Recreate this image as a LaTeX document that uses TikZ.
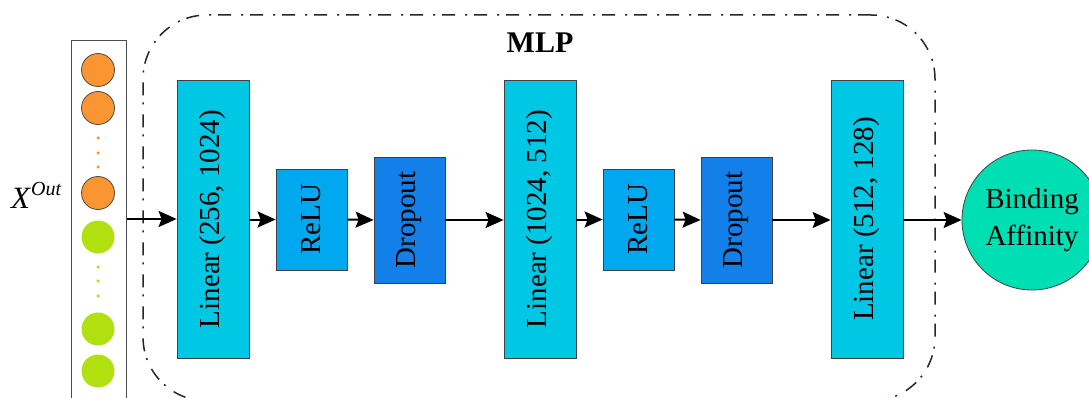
\documentclass[tikz,border=0pt]{standalone}
\usepackage{fontspec}
\setmainfont{Liberation Serif}
\usepackage{graphicx}
\usetikzlibrary{arrows.meta}
\definecolor{linearc}{RGB}{0,200,228}
\definecolor{reluc}{RGB}{0,168,240}
\definecolor{dropc}{RGB}{18,128,232}
\definecolor{orangec}{RGB}{250,150,50}
\definecolor{greenc}{RGB}{176,224,16}
\definecolor{outc}{RGB}{0,222,180}
\begin{document}
\begin{tikzpicture}[x=1pt,y=-1pt,
  txt/.style={font=\fontsize{29}{37}\selectfont},
  layer/.style={draw=black!75, line width=0.8pt, inner sep=0pt, minimum width=72pt, txt},
  linbox/.style={layer, fill=linearc, minimum height=278pt},
  relubox/.style={layer, fill=reluc, minimum width=71pt, minimum height=101pt},
  dropbox/.style={layer, fill=dropc, minimum width=71pt, minimum height=126pt},
  arr/.style={line width=2pt, -{Stealth[length=18pt,width=16pt,inset=3pt]}},
  feat/.style={circle, inner sep=0pt, minimum size=33pt},
  ofeat/.style={feat, fill=orangec, draw=black!70, line width=0.8pt},
  gfeat/.style={feat, fill=greenc},
  odot/.style={circle, inner sep=0pt, minimum size=3.5pt, fill=orangec},
  gdot/.style={circle, inner sep=0pt, minimum size=3.5pt, fill=greenc},
  mlpframe/.style={draw=black!85, line width=1.5pt, rounded corners=64pt,
    dash pattern=on 13pt off 7pt on 2pt off 10pt, inner sep=0pt}
]
\useasboundingbox (0,0) rectangle (1089,398);
\clip (0,0) rectangle (1089,398);

% MLP block frame and title
\node[mlpframe, minimum width=792pt, minimum height=386pt] (mlp) at (539,208) {};
\node[font=\fontsize{30}{36}\selectfont\bfseries] (mlptitle) at (540,43) {MLP};

% input feature column
\node[draw=black!70, line width=1.2pt, minimum width=55pt, minimum height=400pt,
      anchor=north west, inner sep=0pt] (col) at (71,40) {};
\node[ofeat] (f1) at (98,70) {};
\node[ofeat] (f2) at (98,108) {};
\node[odot] (d1) at (98,138) {};
\node[odot] (d2) at (98,153) {};
\node[odot] (d3) at (98,167) {};
\node[ofeat] (f3) at (98,193) {};
\node[gfeat] (f4) at (98,237) {};
\node[gdot] (d4) at (98,267) {};
\node[gdot] (d5) at (98,281) {};
\node[gdot] (d6) at (98,296) {};
\node[gfeat] (f5) at (98,329) {};
\node[gfeat] (f6) at (98,371) {};
\node[anchor=base west, inner sep=0pt, font=\fontsize{31}{34}\selectfont] (xout) at (11,208)
  {\textit{X}\raisebox{13pt}{\fontsize{20}{22}\selectfont\textit{Out}}};

% layers
\node[linbox] (lin1) at (213,219) {\rotatebox{90}{Linear (256, 1024)}};
\node[relubox] (relu1) at (311.5,219.5) {\rotatebox{90}{ReLU}};
\node[dropbox] (drop1) at (409.5,220) {\rotatebox{90}{Dropout}};
\node[linbox] (lin2) at (540,219) {\rotatebox{90}{Linear (1024, 512)}};
\node[relubox] (relu2) at (638.5,219.5) {\rotatebox{90}{ReLU}};
\node[dropbox] (drop2) at (736.5,220) {\rotatebox{90}{Dropout}};
\node[linbox] (lin3) at (867,219) {\rotatebox{90}{Linear (512, 128)}};

% output
\node[circle, draw=black!75, line width=0.8pt, fill=outc, minimum size=140pt,
      inner sep=0pt, align=center, txt] (out) at (1032,220) {Binding\\Affinity};

% connections
\draw[arr] (col.east |- lin1.west) -- (lin1.west);
\draw[arr] (lin1.east |- relu1.west) -- (relu1.west);
\draw[arr] (relu1.east) -- (drop1.west);
\draw[arr] (drop1.east) -- (drop1.east -| lin2.west);
\draw[arr] (lin2.east |- relu2.west) -- (relu2.west);
\draw[arr] (relu2.east) -- (drop2.west);
\draw[arr] (drop2.east) -- (drop2.east -| lin3.west);
\draw[arr] (lin3.east |- out.west) -- (out.west);
\end{tikzpicture}
\end{document}
